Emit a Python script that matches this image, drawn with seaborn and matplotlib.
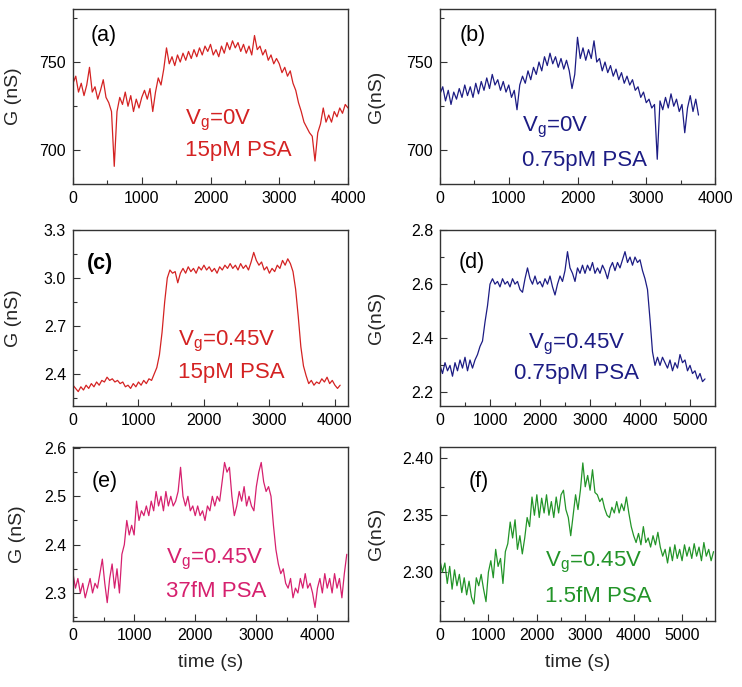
import numpy as np
import matplotlib
matplotlib.use("Agg")
import matplotlib.pyplot as plt
from matplotlib.ticker import MultipleLocator
import seaborn as sns

# ---------------- data ----------------
# (a) Vg=0V, 15pM PSA, sampled every 40 s
g_a = [738, 742, 733, 738, 731, 737, 747, 733, 736, 729, 734, 740, 730, 727, 722,
       691, 722, 730, 726, 733, 725, 731, 722, 729, 724, 730, 734, 729, 735, 722,
       733, 741, 737, 746, 758, 749, 753, 748, 754, 750, 755, 751, 756, 752, 757,
       753, 758, 754, 759, 756, 760, 754, 757, 753, 759, 755, 761, 757, 762, 758,
       761, 756, 760, 755, 759, 754, 765, 757, 759, 754, 757, 751, 754, 749, 752,
       749, 744, 747, 742, 745, 738, 734, 727, 722, 716, 713, 710, 708, 694, 710,
       715, 724, 716, 720, 716, 722, 719, 724, 721, 726, 724]
dt_a = 40
# (b) Vg=0V, 0.75pM PSA, every 40 s
g_b = [732, 736, 728, 734, 726, 733, 729, 735, 730, 737, 731, 736, 730, 738, 732,
       739, 734, 741, 735, 743, 737, 740, 734, 739, 733, 737, 730, 734, 723, 737,
       742, 738, 745, 740, 747, 743, 750, 745, 753, 748, 755, 749, 753, 747, 752,
       746, 751, 745, 735, 743, 764, 752, 758, 751, 757, 752, 762, 750, 752, 745,
       750, 744, 748, 742, 746, 740, 744, 738, 742, 737, 740, 734, 736, 730, 733,
       727, 729, 724, 726, 695, 728, 723, 730, 724, 732, 725, 729, 722, 726, 710,
       724, 731, 722, 729, 720]
dt_b = 40
# (c) Vg=0.45V, 15pM PSA, every 40 s
g_c = [2.33, 2.31, 2.29, 2.32, 2.30, 2.33, 2.31, 2.34, 2.32, 2.35, 2.33, 2.36, 2.35,
       2.38, 2.36, 2.37, 2.35, 2.36, 2.34, 2.35, 2.32, 2.33, 2.31, 2.34, 2.32, 2.35,
       2.33, 2.36, 2.34, 2.37, 2.36, 2.40, 2.44, 2.52, 2.66, 2.85, 3.00, 3.05, 3.03,
       3.04, 2.97, 3.03, 3.06, 3.03, 3.07, 3.04, 3.06, 3.03, 3.07, 3.05, 3.08, 3.05,
       3.07, 3.04, 3.06, 3.03, 3.07, 3.05, 3.08, 3.06, 3.09, 3.06, 3.08, 3.05, 3.09,
       3.06, 3.08, 3.05, 3.10, 3.16, 3.11, 3.08, 3.10, 3.05, 3.07, 3.03, 3.06, 3.04,
       3.08, 3.06, 3.11, 3.08, 3.12, 3.09, 3.04, 2.93, 2.76, 2.57, 2.45, 2.39, 2.34,
       2.36, 2.33, 2.35, 2.34, 2.37, 2.35, 2.38, 2.34, 2.36, 2.33, 2.31, 2.33]
dt_c = 40
# (d) Vg=0.45V, 0.75pM PSA, every 50 s
g_d = [2.30, 2.27, 2.31, 2.28, 2.30, 2.26, 2.31, 2.28, 2.32, 2.29, 2.33, 2.28, 2.32,
       2.29, 2.32, 2.34, 2.37, 2.39, 2.46, 2.52, 2.60, 2.62, 2.60, 2.61, 2.59, 2.62,
       2.60, 2.61, 2.59, 2.62, 2.60, 2.61, 2.58, 2.57, 2.62, 2.66, 2.62, 2.60, 2.63,
       2.60, 2.61, 2.59, 2.62, 2.60, 2.63, 2.59, 2.56, 2.60, 2.63, 2.61, 2.65, 2.72,
       2.66, 2.64, 2.61, 2.66, 2.64, 2.67, 2.64, 2.67, 2.65, 2.68, 2.64, 2.66, 2.64,
       2.67, 2.65, 2.62, 2.66, 2.68, 2.65, 2.68, 2.66, 2.69, 2.72, 2.68, 2.70, 2.67,
       2.70, 2.68, 2.69, 2.65, 2.62, 2.58, 2.47, 2.35, 2.30, 2.33, 2.30, 2.33, 2.31,
       2.29, 2.32, 2.28, 2.31, 2.29, 2.34, 2.31, 2.32, 2.28, 2.30, 2.27, 2.28, 2.25,
       2.27, 2.24, 2.25]
dt_d = 50
# (e) Vg=0.45V, 37fM PSA, every 40 s
g_e = [2.34, 2.31, 2.33, 2.30, 2.32, 2.29, 2.31, 2.33, 2.30, 2.32, 2.31, 2.34, 2.37,
       2.32, 2.28, 2.33, 2.36, 2.31, 2.35, 2.30, 2.38, 2.40, 2.45, 2.42, 2.44, 2.42,
       2.49, 2.45, 2.47, 2.46, 2.48, 2.46, 2.49, 2.47, 2.51, 2.48, 2.50, 2.47, 2.51,
       2.48, 2.50, 2.48, 2.49, 2.51, 2.56, 2.50, 2.48, 2.50, 2.47, 2.48, 2.46, 2.48,
       2.46, 2.47, 2.45, 2.48, 2.47, 2.50, 2.48, 2.50, 2.49, 2.53, 2.57, 2.55, 2.56,
       2.50, 2.46, 2.48, 2.51, 2.49, 2.52, 2.48, 2.50, 2.48, 2.47, 2.52, 2.55, 2.57,
       2.53, 2.51, 2.52, 2.50, 2.44, 2.39, 2.36, 2.34, 2.35, 2.32, 2.31, 2.33, 2.29,
       2.31, 2.30, 2.33, 2.31, 2.34, 2.31, 2.32, 2.30, 2.27, 2.31, 2.33, 2.30, 2.34,
       2.31, 2.33, 2.30, 2.34, 2.31, 2.33, 2.29, 2.34, 2.38]
dt_e = 40
# (f) Vg=0.45V, 1.5fM PSA, every 50 s
g_f = [2.310, 2.300, 2.308, 2.290, 2.305, 2.285, 2.302, 2.288, 2.298, 2.282, 2.295,
       2.280, 2.292, 2.278, 2.272, 2.295, 2.288, 2.298, 2.285, 2.274, 2.300, 2.310,
       2.295, 2.320, 2.305, 2.312, 2.290, 2.318, 2.325, 2.344, 2.330, 2.346, 2.320,
       2.332, 2.316, 2.330, 2.348, 2.340, 2.366, 2.350, 2.368, 2.348, 2.365, 2.352,
       2.368, 2.350, 2.362, 2.348, 2.366, 2.352, 2.368, 2.372, 2.355, 2.348, 2.332,
       2.350, 2.368, 2.355, 2.372, 2.396, 2.375, 2.385, 2.372, 2.390, 2.370, 2.368,
       2.362, 2.365, 2.356, 2.350, 2.348, 2.357, 2.352, 2.362, 2.352, 2.360, 2.354,
       2.366, 2.352, 2.340, 2.332, 2.326, 2.334, 2.324, 2.340, 2.326, 2.330, 2.322,
       2.332, 2.324, 2.335, 2.322, 2.314, 2.320, 2.308, 2.322, 2.310, 2.324, 2.312,
       2.320, 2.310, 2.324, 2.314, 2.322, 2.312, 2.325, 2.314, 2.322, 2.310, 2.326,
       2.314, 2.320, 2.310, 2.318]
dt_f = 50

labels = ["(a)", "(b)", "(c)", "(d)", "(e)", "(f)"]
vg_text = [r"V$_\mathrm{g}$=0V", r"V$_\mathrm{g}$=0V", r"V$_\mathrm{g}$=0.45V",
           r"V$_\mathrm{g}$=0.45V", r"V$_\mathrm{g}$=0.45V", r"V$_\mathrm{g}$=0.45V"]
psa_text = ["15pM PSA", "0.75pM PSA", "15pM PSA", "0.75pM PSA", "37fM PSA", "1.5fM PSA"]
ylabels = ["G (nS)", "G(nS)", "G (nS)", "G(nS)", "G (nS)", "G(nS)"]
colors = ["#d42222", "#1c1c84", "#d42222", "#1c1c84", "#d6206e", "#229428"]

# ---------------- style ----------------
sns.set_theme(style="ticks")
plt.rcParams["font.family"] = ["Liberation Sans", "DejaVu Sans"]
plt.rcParams["mathtext.fontset"] = "custom"
plt.rcParams["mathtext.rm"] = "Liberation Sans"
plt.rcParams["mathtext.it"] = "Liberation Sans:italic"
plt.rcParams["mathtext.bf"] = "Liberation Sans:bold"

fig = plt.figure(figsize=(7.42, 6.87), dpi=100)
W, H = 742, 687
cols = [73, 440]
rows = [(9, 184), (230, 406), (447, 621)]
axw = 275

series = [(g_a, dt_a), (g_b, dt_b), (g_c, dt_c), (g_d, dt_d), (g_e, dt_e), (g_f, dt_f)]
xlims = [(0, 4000), (0, 4000), (0, 4200), (0, 5500), (0, 4500), (0, 5680)]
ylims = [(681, 780), (681, 780), (2.2, 3.3), (2.15, 2.8), (2.242, 2.602), (2.257, 2.41)]
ymaj = [50, 50, 0.3, 0.2, 0.1, 0.05]
ymin = [25, 25, 0.15, 0.1, 0.05, 0.025]
ytick_fmt = ["{:.0f}", "{:.0f}", "{:.1f}", "{:.1f}", "{:.1f}", "{:.2f}"]
lab_pos = [(0.113, 0.85), (0.12, 0.85), (0.098, 0.807), (0.117, 0.818), (0.116, 0.80), (0.142, 0.80)]
vg_pos = [(0.407, 0.389), (0.298, 0.349), (0.382, 0.392), (0.498, 0.375), (0.34, 0.38), (0.382, 0.362)]
psa_pos = [(0.407, 0.194), (0.298, 0.137), (0.382, 0.193), (0.498, 0.1875), (0.34, 0.167), (0.382, 0.138)]
halign = ["left", "left", "left", "center", "left", "left"]
ylab_x = [-0.185, -0.2, -0.185, -0.2, -0.17, -0.2]

for i in range(6):
    r, c = divmod(i, 2)
    top, bot = rows[r]
    left = cols[c]
    ax = fig.add_axes([left / W, 1 - bot / H, axw / W, (bot - top) / H])
    g, dt = series[i]
    t = np.arange(len(g)) * dt
    sns.lineplot(x=t, y=g, ax=ax, color=colors[i], linewidth=0.9, estimator=None)
    ax.set_xlim(*xlims[i])
    ax.set_ylim(*ylims[i])
    ax.xaxis.set_major_locator(MultipleLocator(1000))
    ax.xaxis.set_minor_locator(MultipleLocator(500))
    ax.yaxis.set_major_locator(MultipleLocator(ymaj[i]))
    ax.yaxis.set_minor_locator(MultipleLocator(ymin[i]))
    fmt = ytick_fmt[i]
    ax.yaxis.set_major_formatter(matplotlib.ticker.FuncFormatter(lambda v, p, f=fmt: f.format(v)))
    ax.tick_params(which="both", direction="in", top=False, right=False,
                   labelsize=11.5, color="#333333", labelcolor="black", pad=5)
    ax.tick_params(which="major", length=5, width=0.8)
    ax.tick_params(which="minor", length=3, width=0.8)
    for s in ax.spines.values():
        s.set_color("#333333")
        s.set_linewidth(1.0)
    ax.set_ylabel(ylabels[i], fontsize=14)
    ax.yaxis.set_label_coords(ylab_x[i], 0.5)
    if r == 2:
        ax.set_xlabel("time (s)", fontsize=14, va="top")
        ax.xaxis.set_label_coords(0.5, -0.19)
    else:
        ax.set_xlabel("")
    ax.text(lab_pos[i][0], lab_pos[i][1], labels[i], transform=ax.transAxes,
            ha="center", va="center", fontsize=15.5,
            fontweight="bold" if i == 2 else "normal", color="black")
    ax.text(vg_pos[i][0], vg_pos[i][1], vg_text[i], transform=ax.transAxes,
            ha=halign[i], va="center_baseline", fontsize=16, color=colors[i])
    ax.text(psa_pos[i][0], psa_pos[i][1], psa_text[i], transform=ax.transAxes,
            ha=halign[i], va="center", fontsize=16, color=colors[i])

fig.savefig("out.png", dpi=100)
